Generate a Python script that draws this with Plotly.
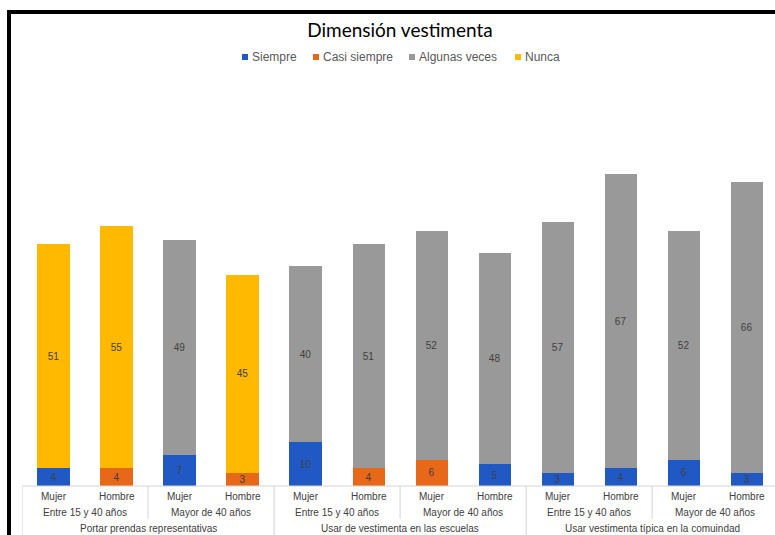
import plotly.graph_objects as go

# ---- data ----
sexes = ["Mujer", "Hombre"] * 6
ages = ["Entre 15 y 40 años", "Mayor de 40 años"] * 3
dimensions = ["Portar prendas representativas",
              "Usar de vestimenta en las escuelas",
              "Usar vestimenta típica en la comuindad"]
series_names = ["Siempre", "Casi siempre", "Algunas veces", "Nunca"]
siempre = [4, None, 7, None, 10, None, None, 5, 3, 4, 6, 3]
casi_siempre = [None, 4, None, 3, None, 4, 6, None, None, None, None, None]
algunas_veces = [None, None, 49, None, 40, 51, 52, 48, 57, 67, 52, 66]
nunca = [51, 55, None, 45, None, None, None, None, None, None, None, None]
title_text = "Dimensión vestimenta"

# ---- style ----
colors = ["#2159C4", "#E8681A", "#999999", "#FFB900"]
W, H = 775, 535
ML, MR, MT, MB = 22, 0, 80, 49
plot_h = H - MT - MB
plot_w = W - ML - MR
YMAX = 92.3
XR = [-0.5, 11.45]
legend_px = [245, 316, 412, 518]   # marker centres (pixels)
legend_py = 57

def pxx(p):
    return (p - ML) / plot_w

def pyy(p):
    return (H - MB - p) / plot_h

x = list(range(len(sexes)))
fig = go.Figure()
for name, vals, col in zip(series_names, [siempre, casi_siempre, algunas_veces, nunca], colors):
    fig.add_trace(go.Bar(
        x=x, y=vals, name=name, marker=dict(color=col, line=dict(width=0)),
        width=0.51, text=vals, texttemplate="%{y}", textposition="inside",
        insidetextanchor="middle", textangle=0,
        textfont=dict(size=10, color="#404040", family="Liberation Sans"),
        showlegend=False, hoverinfo="y+name"))

def py(px):
    return -px / plot_h

annotations = []
shapes = []
lab_font = dict(size=10, color="#404040", family="Liberation Sans")
for i, s in enumerate(sexes):
    annotations.append(dict(x=i, y=py(10), xref="x", yref="paper", text=s,
                            showarrow=False, font=lab_font, yanchor="middle"))
for j, a in enumerate(ages):
    annotations.append(dict(x=2 * j + 0.5, y=py(26), xref="x", yref="paper", text=a,
                            showarrow=False, font=lab_font, yanchor="middle"))
for k, d in enumerate(dimensions):
    annotations.append(dict(x=4 * k + 1.5, y=py(42), xref="x", yref="paper", text=d,
                            showarrow=False, font=lab_font, yanchor="middle"))

# legend (square + text)
for name, col, lx in zip(series_names, colors, legend_px):
    shapes.append(dict(type="rect", xref="paper", yref="paper",
                       x0=pxx(lx - 3), x1=pxx(lx + 3), y0=pyy(legend_py + 3), y1=pyy(legend_py - 3),
                       fillcolor=col, line=dict(width=0)))
    annotations.append(dict(x=pxx(lx + 5), y=pyy(legend_py), xref="paper", yref="paper",
                            text=name, showarrow=False, xanchor="left", yanchor="middle",
                            font=dict(size=12, color="#595959", family="Liberation Sans")))

line_col = "#D4D4D4"
shapes.append(dict(type="line", xref="x", yref="paper", x0=-0.5, x1=11.6, y0=0, y1=0,
                   line=dict(color=line_col, width=1)))
for b in [-0.5, 1.5, 3.5, 5.5, 7.5, 9.5]:
    full = b in (-0.5, 3.5, 7.5)
    shapes.append(dict(type="line", xref="x", yref="paper", x0=b, x1=b, y0=0,
                       y1=py(49 if full else 33),
                       line=dict(color=line_col, width=1)))
# black frame (top and left)
shapes.append(dict(type="line", xref="paper", yref="paper",
                   x0=pxx(7), x1=pxx(W + 5), y0=pyy(12), y1=pyy(12),
                   line=dict(color="black", width=4)))
shapes.append(dict(type="line", xref="paper", yref="paper",
                   x0=pxx(9), x1=pxx(9), y0=pyy(10), y1=py(60),
                   line=dict(color="black", width=4)))

fig.update_layout(
    width=W, height=H,
    margin=dict(l=ML, r=MR, t=MT, b=MB),
    paper_bgcolor="white", plot_bgcolor="white",
    barmode="stack", bargap=0.49, showlegend=False,
    title=dict(text=title_text, x=400 / W, xanchor="center", y=1 - 30 / H, yanchor="middle",
               font=dict(size=19, color="black", family="Lato")),
    xaxis=dict(range=XR, showticklabels=False, showgrid=False, zeroline=False,
               showline=False, ticks=""),
    yaxis=dict(range=[0, YMAX], showticklabels=False, showgrid=False, zeroline=False,
               showline=False, ticks=""),
    uniformtext=dict(minsize=10, mode="show"),
    annotations=annotations, shapes=shapes,
)

fig.write_html("out.html")
